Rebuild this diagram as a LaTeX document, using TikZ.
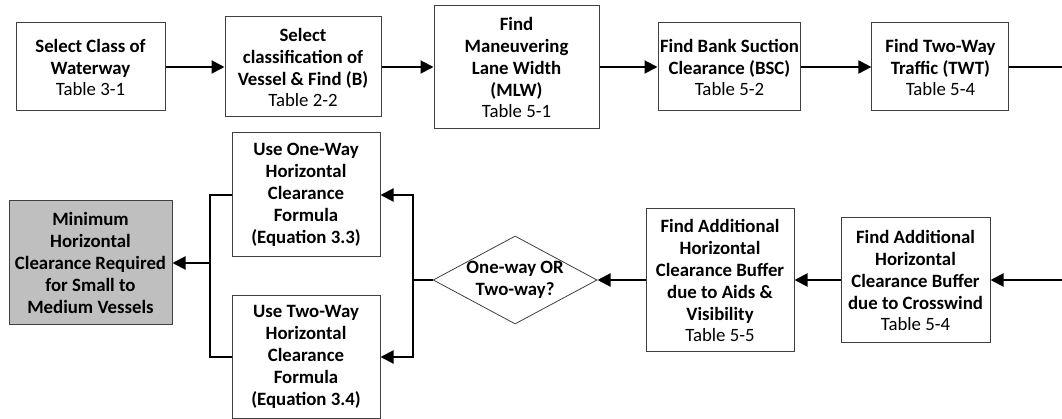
\documentclass[tikz,border=0pt]{standalone}
\usepackage{fontspec}
\setmainfont{Carlito}
\usetikzlibrary{arrows.meta,positioning,shapes.geometric}

\begin{document}
\begin{tikzpicture}[
  x=1pt, y=-1pt,
  font=\fontsize{18.8}{22}\selectfont\bfseries,
  box/.style={draw=black!75, line width=1pt, align=center, inner sep=2pt},
  dia/.style={draw=black!75, line width=0.8pt, diamond, inner sep=0pt, minimum width=164pt, minimum height=88pt},
  arr/.style={-{Triangle[length=13pt,width=13pt]}, line width=2pt},
  ln/.style={line width=2pt}
]
\useasboundingbox (0,0) rectangle (1062,419);
% top row
\node[box, minimum width=149pt, minimum height=88pt] (cls) at (90.5,67) {Select Class of\\Waterway\\[-1pt]{\mdseries Table 3-1}};
\node[box, minimum width=156pt, minimum height=100pt, right=59pt of cls] (vsl) {Select\\classification of\\Vessel \& Find (B)\\[-1pt]{\mdseries Table 2-2}};
\node[box, minimum width=165pt, minimum height=123pt, right=52pt of vsl] (mlw) {Find\\Maneuvering\\Lane Width\\(MLW)\\[-1pt]{\mdseries Table 5-1}};
\node[box, minimum width=138pt, minimum height=88pt, right=58pt of mlw] (bsc) {Find Bank Suction\\Clearance (BSC)\\[-1pt]{\mdseries Table 5-2}};
\node[box, minimum width=137pt, minimum height=88pt, right=70pt of bsc] (twt) {Find Two-Way\\Traffic (TWT)\\[-1pt]{\mdseries Table 5-4}};
\coordinate (rtop) at (1062,67);
% bottom row
\node[box, minimum width=149pt, minimum height=124pt] (wind) at (915.5,280) {Find Additional\\Horizontal\\Clearance Buffer\\due to Crosswind\\[-1pt]{\mdseries Table 5-4}};
\node[box, minimum width=148pt, minimum height=142pt, left=46pt of wind] (aids) {Find Additional\\Horizontal\\Clearance Buffer\\due to Aids \&\\Visibility\\[-1pt]{\mdseries Table 5-5}};
\node[dia, left=48pt of aids, label={[align=center]center:One-way OR\\Two-way?}] (dec) {};
\node[box, minimum width=148pt, minimum height=124pt] (one) at (306,195) {Use One-Way\\Horizontal\\Clearance\\Formula\\(Equation 3.3)};
\node[box, minimum width=148pt, minimum height=123pt] (two) at (306,357) {Use Two-Way\\Horizontal\\Clearance\\Formula\\(Equation 3.4)};
\node[box, fill=black!25, minimum width=163pt, minimum height=124pt] (minh) at (90.5,263) {Minimum\\Horizontal\\Clearance Required\\for Small to\\Medium Vessels};
\coordinate (rbot) at (1062,280);
\coordinate (jr) at (413,280);
\coordinate (jl) at (210,263);
% connectors
\draw[arr] (cls) -- (vsl);
\draw[arr] (vsl) -- (mlw);
\draw[arr] (mlw) -- (bsc);
\draw[arr] (bsc) -- (twt);
\draw[ln] (twt) -- (rtop);
\draw[arr] (rbot) -- (wind);
\draw[arr] (wind) -- (aids);
\draw[arr] (aids) -- (dec);
\draw[ln] (dec.west) -- (jr);
\draw[arr] (jr) |- (one);
\draw[arr] (jr) |- (two);
\draw[ln] (one.west) -| (jl);
\draw[ln] (two.west) -| (jl);
\draw[arr] (jl) -- (minh);
\end{tikzpicture}
\end{document}
